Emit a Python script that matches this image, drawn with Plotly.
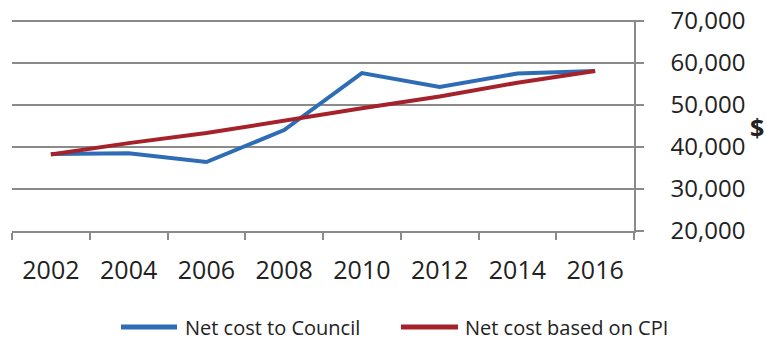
import plotly.graph_objects as go

years = ["2002", "2004", "2006", "2008", "2010", "2012", "2014", "2016"]
council = [38300, 38500, 36400, 44000, 57600, 54300, 57500, 58100]
cpi = [38200, 40900, 43300, 46300, 49200, 52000, 55300, 58100]
y_ticks = [20000, 30000, 40000, 50000, 60000, 70000]
series_names = ["Net cost to Council", "Net cost based on CPI"]
colors = ["#2E6DB5", "#A6222B"]

FONT = "Open Sans"
W, H = 766, 340
L, R, T, B = 12, 132, 20, 109
PW, PH = W - L - R, H - T - B

fig = go.Figure()
for vals, name, col in zip([council, cpi], series_names, colors):
    fig.add_trace(go.Scatter(x=years, y=vals, mode="lines", name=name,
                             line=dict(color=col, width=4), showlegend=False))

fig.update_layout(
    width=W, height=H,
    margin=dict(l=L, r=R, t=T, b=B),
    paper_bgcolor="white", plot_bgcolor="white",
    font=dict(family=FONT, color="#222222"),
    xaxis=dict(type="category", tickson="boundaries", ticks="outside", ticklen=7,
               tickcolor="#8a8a8a", tickwidth=1.5, showline=True, linecolor="#8a8a8a",
               linewidth=1.5, showgrid=False, tickfont=dict(size=25, color="#222222"),
               ticklabelstandoff=16, range=[-0.5, 7.5], automargin=False),
    yaxis=dict(side="right", range=[19950, 70250], tickvals=y_ticks, tickformat=",",
               showgrid=True, gridcolor="#8a8a8a", gridwidth=1.5, showline=True,
               linecolor="#8a8a8a", linewidth=1.5, ticks="outside", ticklen=8,
               tickcolor="#8a8a8a", tickwidth=1.5, tickfont=dict(size=24, color="#222222"),
               ticklabelstandoff=22, zeroline=False, automargin=False),
)

def px_x(p):
    return (p - L) / PW

def px_y(p):
    return (H - B - p) / PH

fig.add_annotation(text="<b>$</b>", xref="paper", yref="paper", x=px_x(757), y=px_y(127),
                   xanchor="center", yanchor="middle", showarrow=False,
                   font=dict(size=25, color="#222222", family=FONT))

# legend drawn as key lines + labels
leg_y = 327
legend_items = [(121, 177, 183), (401, 458, 463)]
for (x0, x1, tx), name, col in zip(legend_items, series_names, colors):
    fig.add_shape(type="line", xref="paper", yref="paper", x0=px_x(x0), x1=px_x(x1),
                  y0=px_y(leg_y), y1=px_y(leg_y), line=dict(color=col, width=5))
    fig.add_annotation(text=name, xref="paper", yref="paper", x=px_x(tx), y=px_y(leg_y),
                       xanchor="left", yanchor="middle", showarrow=False,
                       font=dict(size=20, color="#222222", family=FONT))

fig.write_html("out.html", config={"displayModeBar": False},
               post_script="document.body.style.margin='0';document.body.style.overflow='hidden';")
